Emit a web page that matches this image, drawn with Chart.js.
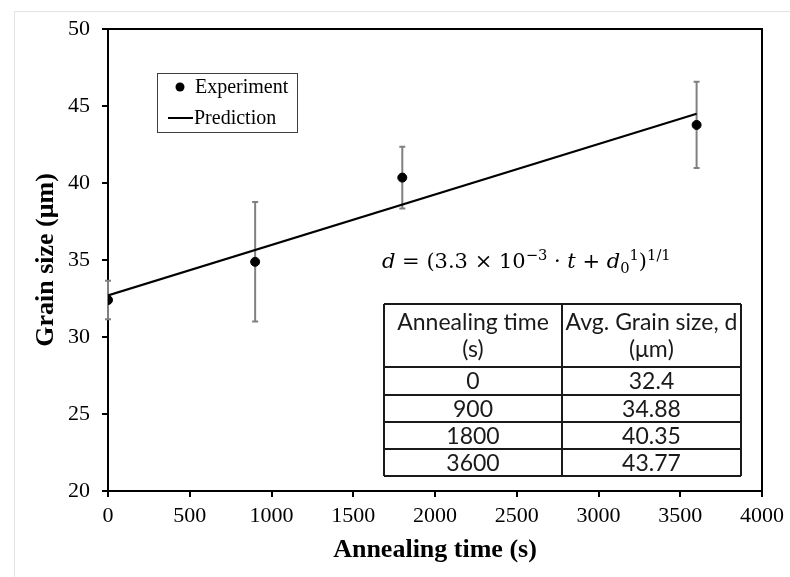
<!DOCTYPE html>
<html>
<head>
<meta charset="utf-8">
<title>Grain size vs annealing time</title>
<script src="https://cdn.jsdelivr.net/npm/chart.js@4.4.1/dist/chart.umd.min.js"></script>
<style>
html,body{margin:0;padding:0;background:#fff;}
#wrap{position:relative;width:790px;height:577px;overflow:hidden;}
#frame{position:absolute;left:14px;top:11px;right:-2px;bottom:-2px;border-top:1px solid #e3e3e3;border-left:1px solid #e3e3e3;}
#grainChart{position:absolute;left:0;top:0;}
</style>
</head>
<body>
<div id="wrap">
  <div id="frame"></div>
  <canvas id="grainChart" width="790" height="577"></canvas>
</div>
<script>
// measured grain sizes
const annealTimes = [0, 900, 1800, 3600];
const grainSizes = [32.4, 34.88, 40.35, 43.77];
const grainErrors = [1.25, 3.88, 2.0, 2.8];

// model curve end points
const predTimes = [0, 3600];
const predSizes = [32.7, 44.5];

const serif = "'Liberation Serif', 'Times New Roman', serif";
const mathFont = "'DejaVu Serif', serif";
const sans = "Lato, 'Open Sans', sans-serif";

// grey error bars behind the points
const errorBars = {
    id: 'errorBars',
    beforeDatasetsDraw(chart) {
        const {ctx, scales:{x, y}} = chart;
        ctx.save();
        ctx.strokeStyle = '#808080';
        ctx.lineWidth = 2;
        annealTimes.forEach((t, i) => {
            const px = x.getPixelForValue(t);
            const top = y.getPixelForValue(grainSizes[i] + grainErrors[i]);
            const bot = y.getPixelForValue(grainSizes[i] - grainErrors[i]);
            ctx.beginPath();
            ctx.moveTo(px, top); ctx.lineTo(px, bot);
            ctx.moveTo(px - 3, top); ctx.lineTo(px + 3, top);
            ctx.moveTo(px - 3, bot); ctx.lineTo(px + 3, bot);
            ctx.stroke();
        });
        ctx.restore();
    }
};

// closes the plot box on top and right
const plotBox = {
    id: 'plotBox',
    beforeDraw(chart) {
        const {ctx, chartArea:a} = chart;
        ctx.save();
        ctx.strokeStyle = '#000';
        ctx.lineWidth = 2;
        ctx.beginPath();
        ctx.moveTo(a.left, a.top); ctx.lineTo(a.right, a.top); ctx.lineTo(a.right, a.bottom);
        ctx.stroke();
        ctx.restore();
    }
};

// legend box in the upper left of the plot
const boxLegend = {
    id: 'boxLegend',
    afterDraw(chart) {
        const {ctx} = chart;
        const ds = chart.data.datasets;
        ctx.save();
        ctx.strokeStyle = '#404040';
        ctx.lineWidth = 1;
        ctx.strokeRect(157.5, 73.5, 140, 59);
        ctx.font = '20px ' + serif;
        ctx.textBaseline = 'middle';
        ctx.beginPath();
        ctx.arc(180, 87, 4.5, 0, Math.PI * 2);
        ctx.fillStyle = ds[0].backgroundColor;
        ctx.fill();
        ctx.fillStyle = '#000';
        ctx.fillText(ds[0].label, 195, 88);
        ctx.strokeStyle = ds[1].borderColor;
        ctx.lineWidth = 2;
        ctx.beginPath();
        ctx.moveTo(168, 118); ctx.lineTo(193, 118);
        ctx.stroke();
        ctx.fillText(ds[1].label, 194, 119);
        ctx.restore();
    }
};

// growth law written above the table
const equation = {
    id: 'equation',
    afterDraw(chart) {
        const {ctx} = chart;
        const size = 21;
        const parts = [
            {t:'d', it:true},
            {t:' = (3.3 × 10'},
            {t:'−3', sup:true},
            {t:' · '},
            {t:'t', it:true},
            {t:' + '},
            {t:'d', it:true},
            {t:'0', sub:true},
            {t:'1', sup:true},
            {t:')'},
            {t:'1/1', sup:true}
        ];
        let x = 382;
        const base = 268;
        ctx.save();
        ctx.fillStyle = '#000';
        ctx.textBaseline = 'alphabetic';
        parts.forEach(p => {
            const fs = (p.sup || p.sub) ? size * 0.7 : size;
            ctx.font = (p.it ? 'italic ' : '') + fs + 'px ' + mathFont;
            const dy = p.sup ? -size * 0.38 : (p.sub ? size * 0.22 : 0);
            ctx.fillText(p.t, x, base + dy);
            x += ctx.measureText(p.t).width;
        });
        ctx.restore();
    }
};

// summary table built from the measured values
const valueTable = {
    id: 'valueTable',
    afterDraw(chart) {
        const {ctx} = chart;
        const left = 384, mid = 562, right = 741;
        const rows = [304, 367, 395, 422, 449, 476];
        ctx.save();
        ctx.fillStyle = '#fff';
        ctx.fillRect(left, rows[0], right - left, rows[rows.length - 1] - rows[0]);
        ctx.strokeStyle = '#1a1a1a';
        ctx.lineWidth = 2;
        ctx.beginPath();
        rows.forEach(r => { ctx.moveTo(left, r); ctx.lineTo(right, r); });
        [left, mid, right].forEach(c => { ctx.moveTo(c, rows[0]); ctx.lineTo(c, rows[rows.length - 1]); });
        ctx.stroke();
        ctx.fillStyle = '#1a1a1a';
        ctx.font = '23px ' + sans;
        ctx.textAlign = 'center';
        ctx.textBaseline = 'middle';
        const c1 = (left + mid) / 2, c2 = (mid + right) / 2;
        ctx.fillText('Annealing time', c1, 323);
        ctx.fillText('(s)', c1, 350);
        ctx.fillText('Avg. Grain size, d', c2, 323);
        ctx.fillText('(μm)', c2, 350);
        annealTimes.forEach((t, i) => {
            const cy = (rows[i + 1] + rows[i + 2]) / 2 + 1;
            ctx.fillText(String(t), c1, cy);
            ctx.fillText(String(grainSizes[i]), c2, cy);
        });
        ctx.restore();
    }
};

function GrainSizeChart() {
    const ctx = document.getElementById('grainChart');
    const tickFont = {family: serif, size: 22};
    const titleFont = {family: serif, size: 26, weight: 'bold'};

    new Chart(ctx, {
        type: 'scatter',
        data: {
            datasets: [
                {
                    label: 'Experiment',
                    data: annealTimes.map((t, i) => ({x: t, y: grainSizes[i]})),
                    backgroundColor: '#000',
                    borderColor: '#000',
                    pointRadius: 4.5,
                    pointHoverRadius: 4.5,
                    order: 1
                },
                {
                    label: 'Prediction',
                    type: 'line',
                    data: predTimes.map((t, i) => ({x: t, y: predSizes[i]})),
                    borderColor: '#000',
                    borderWidth: 2,
                    pointRadius: 0,
                    fill: false,
                    order: 2
                }
            ]
        },
        options: {
            responsive: false,
            animation: false,
            layout: {
                padding: {left: 0, top: 29, right: 25, bottom: 0}
            },
            plugins: {
                legend: {display: false},
                tooltip: {enabled: false}
            },
            scales: {
                x: {
                    type: 'linear',
                    min: 0,
                    max: 4000,
                    ticks: {stepSize: 500, font: tickFont, color: '#000', padding: 6, maxRotation: 0,
                        callback: v => String(v)},
                    grid: {drawOnChartArea: false, color: '#000', lineWidth: 2, tickLength: 6},
                    border: {color: '#000', width: 2},
                    title: {display: true, text: 'Annealing time (s)', font: titleFont, color: '#000', padding: {top: 0, bottom: 11}},
                    afterFit(scale) { scale.height = 86; }
                },
                y: {
                    min: 20,
                    max: 50,
                    ticks: {stepSize: 5, font: tickFont, color: '#000', padding: 12},
                    grid: {drawOnChartArea: false, color: '#000', lineWidth: 2, tickLength: 6},
                    border: {color: '#000', width: 2},
                    title: {display: true, text: 'Grain size (μm)', font: titleFont, color: '#000', padding: {top: 31, bottom: 0}},
                    afterFit(scale) { scale.width = 108; }
                }
            }
        },
        plugins: [plotBox, errorBars, boxLegend, equation, valueTable]
    });
}

loading();

function loading(){
    GrainSizeChart();
}
</script>
</body>
</html>
